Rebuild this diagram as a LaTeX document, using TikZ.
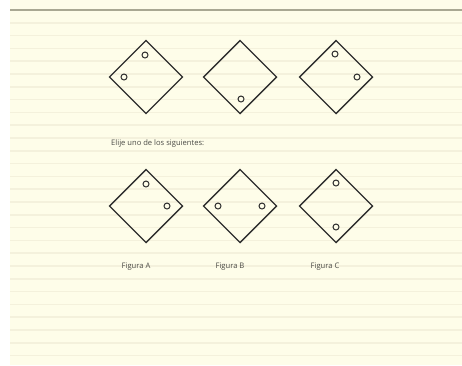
\documentclass[tikz,border=0pt]{standalone}
\usepackage{fontspec}
\setmainfont{Open Sans}
\definecolor{paper}{HTML}{FEFDE9}
\definecolor{rule}{HTML}{F4F1DC}
\definecolor{topline}{HTML}{A9A892}
\definecolor{ink}{HTML}{2E2E2E}
\definecolor{txt}{HTML}{4A4A45}
\begin{document}
\begin{tikzpicture}[x=1pt,y=-1pt,
  shapeline/.style={draw=ink,line width=1.4pt,line join=miter},
  dotc/.style={draw=ink,line width=1pt,fill=paper},
  lbl/.style={font=\fontsize{7.6}{9}\selectfont,text=txt,inner sep=0pt}]
\useasboundingbox (0,0) rectangle (462,365);
\fill[white] (0,0) rectangle (462,365);
\fill[paper] (10,0) rectangle (462,365);
\foreach \k in {1,...,27} {
  \draw[rule,line width=1.6pt] (10,{10+12.8*\k}) -- (462,{10+12.8*\k});
}
\draw[topline,line width=2pt] (10,10) -- (462,10);
% diamonds
\newcommand{\dia}[2]{\draw[shapeline] (#1-36.5,#2) -- (#1,#2-36.5) -- (#1+36.5,#2) -- (#1,#2+36.5) -- cycle;}
\dia{146}{77}
\dia{240}{77}
\dia{336}{77}
\dia{146}{206}
\dia{240}{206}
\dia{336}{206}
% dots top row
\draw[dotc] (145,55) circle (3);
\draw[dotc] (124,77) circle (3);
\draw[dotc] (241,99) circle (3);
\draw[dotc] (335,54) circle (3);
\draw[dotc] (357,77) circle (3);
% dots bottom row
\draw[dotc] (146,184) circle (3);
\draw[dotc] (167,206) circle (3);
\draw[dotc] (218,206) circle (3);
\draw[dotc] (262,206) circle (3);
\draw[dotc] (336,183) circle (3);
\draw[dotc] (336,227) circle (3);
% texts
\node[lbl,anchor=west] (q) at (111,144) {Elije uno de los siguientes:};
\node[lbl] (fa) at (136,267) {Figura A};
\node[lbl] (fb) at (230,267) {Figura B};
\node[lbl] (fc) at (325,267) {Figura C};
\end{tikzpicture}
\end{document}
